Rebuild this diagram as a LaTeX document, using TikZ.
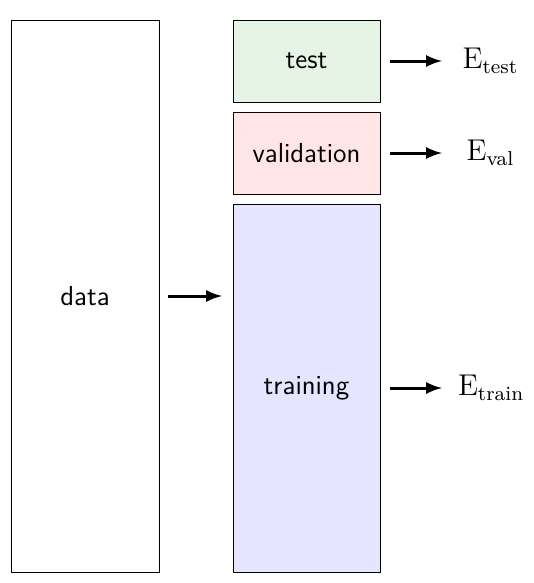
\documentclass[tikz,border=0pt]{standalone}
\usepackage{amsmath}
\usepackage{xcolor}
\usepackage{tikz}
\usetikzlibrary{positioning}
\usetikzlibrary{arrows}
\definecolor{testgreen}{RGB}{0,150,0}
\tikzset {
  node distance={4pt},
  % boxes of the split
  part/.style = {draw, rectangle, outer sep=0pt, minimum width=58.8pt, font=\sffamily\fontsize{11}{13}\selectfont},
  testset/.style={part, fill=testgreen!10, minimum height=32.8pt},
  valset/.style={part, fill=red!10, minimum height=32.8pt},
  trainset/.style={part, fill=blue!10, minimum height=147.2pt},
  % error labels, all centred in one column
  errlabel/.style={font=\fontsize{11.5}{13}\selectfont, inner sep=2pt, text width=26pt, align=center},
  % arrows to the errors
  flow/.style={-latex, very thick, shorten <=4pt, shorten >=4.2pt},
}
\newcommand{\err}[1]{
  $\mathrm{E}_{\text{#1}}$
}

\begin{document}
\begin{tikzpicture}[x=1pt, y=1pt]
        \useasboundingbox (0,0) rectangle (213.6,-233.2);
        \node[part, minimum width=59.2pt, minimum height=220.8pt] (data) at (34,-118.4) {data};
        \node[testset] (test) at (122.6,-24.4) {test};
        \node[valset] (val) [below=of test] {validation};
        \node[trainset] (train) [below=of val] {training};

        \node[errlabel] (etest) [right=29pt of test] {\err{test}};
        \node[errlabel] (eval) [right=29pt of val] {\err{val}};
        \node[errlabel] (etrain) [right=29pt of train] {\err{train}};

        \draw [flow, shorten >=4.4pt, shorten <=3.6pt] (data.east) -- (data.east -| train.west);
        \draw [flow] (test) -- (etest);
        \draw [flow] (val) -- (eval);
        \draw [flow] (train) -- (etrain);
      \end{tikzpicture}
\end{document}
